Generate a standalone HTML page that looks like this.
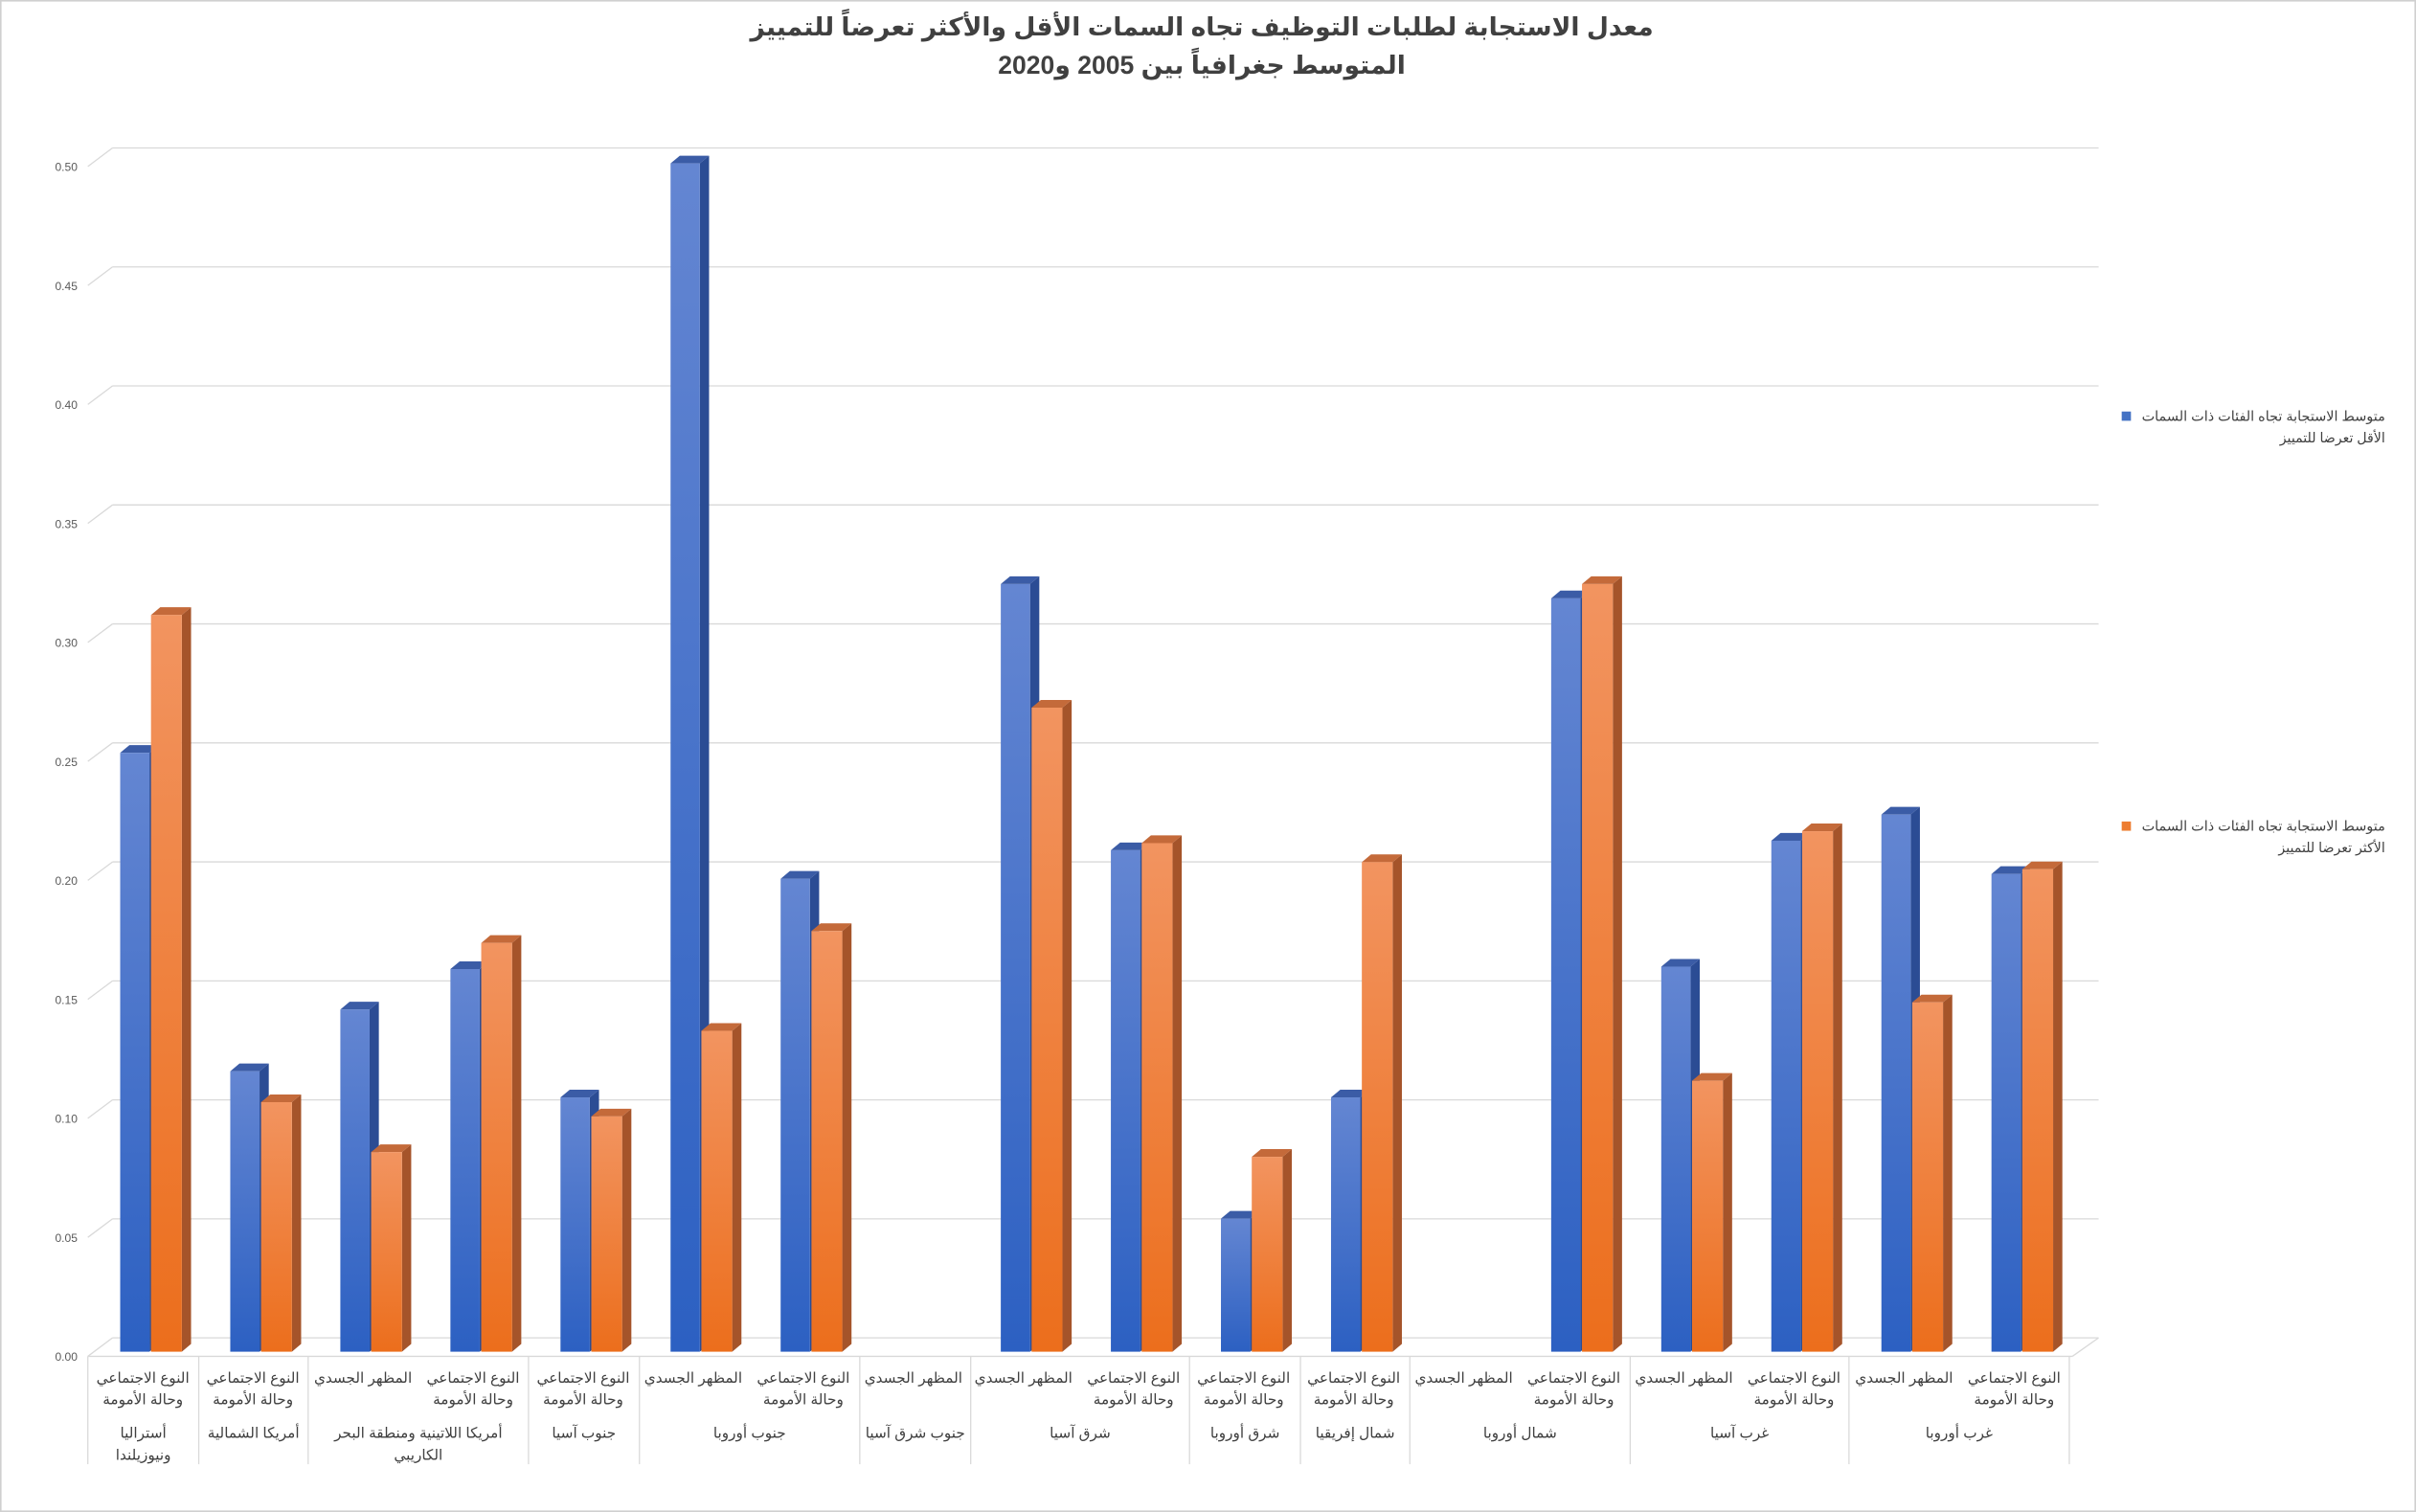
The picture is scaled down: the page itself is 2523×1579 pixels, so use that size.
<!DOCTYPE html>
<html><head><meta charset="utf-8"><style>
html,body{margin:0;padding:0;background:#fff}
svg{display:block}
text{font-family:"Liberation Sans","DejaVu Sans",sans-serif}
</style></head><body>
<svg id="s" width="2523" height="1579" viewBox="0 0 1568 981" preserveAspectRatio="none" xmlns="http://www.w3.org/2000/svg">
<defs>
<linearGradient id="gb" x1="0" y1="0" x2="0" y2="1"><stop offset="0" stop-color="#6486d2"/><stop offset="1" stop-color="#2c60c2"/></linearGradient>
<linearGradient id="go" x1="0" y1="0" x2="0" y2="1"><stop offset="0" stop-color="#f29460"/><stop offset="1" stop-color="#ec6e1c"/></linearGradient>
</defs>
<rect x="0.5" y="0.5" width="1567" height="980" fill="#fff" stroke="#d0d0d0"/>
<g font-weight="bold" fill="#404040" font-size="16.5" text-anchor="middle" direction="rtl">
<text x="780" y="23">معدل الاستجابة لطلبات التوظيف تجاه السمات الأقل والأكثر تعرضاً للتمييز</text>
<text x="780" y="48">المتوسط جغرافياً بين 2005 و2020</text>
</g>
<g id="grid"></g>
<g id="bars"></g>
<g id="labels" font-size="9.5" fill="#404040" text-anchor="middle" direction="rtl"></g>
<g font-size="8.8" fill="#404040" direction="rtl" text-anchor="start">
<rect x="1377" y="267" width="6" height="6" fill="#4472c4"/>
<text x="1548" y="273" textLength="158" lengthAdjust="spacingAndGlyphs">متوسط الاستجابة تجاه الفئات ذات السمات</text>
<text x="1548" y="287">الأقل تعرضا للتمييز</text>
<rect x="1377" y="533" width="6" height="6" fill="#ed7d31"/>
<text x="1548" y="539" textLength="158" lengthAdjust="spacingAndGlyphs">متوسط الاستجابة تجاه الفئات ذات السمات</text>
<text x="1548" y="553">الأكثر تعرضا للتمييز</text>
</g>
</svg>
<script>
var NS="http://www.w3.org/2000/svg";
function el(p,t,a,txt){var e=document.createElementNS(NS,t);for(var k in a)e.setAttribute(k,a[k]);if(txt!=null)e.textContent=txt;document.getElementById(p).appendChild(e);return e;}
for(var i=0;i<=10;i++){
 var v=i*0.05, y=868-v*1544;
 el("grid","line",{x1:73,y1:y,x2:1362,y2:y,stroke:"#d9d9d9","stroke-width":0.8});
 el("grid","line",{x1:57,y1:y+12,x2:73,y2:y,stroke:"#d9d9d9","stroke-width":0.8});
 el("grid","text",{x:43,y:y+15,"font-size":7.5,fill:"#595959","text-anchor":"middle"},v.toFixed(2));
}
el("grid","line",{x1:57,y1:880,x2:1345,y2:880,stroke:"#d9d9d9","stroke-width":0.8});
el("grid","line",{x1:1345,y1:880,x2:1362,y2:868,stroke:"#d9d9d9","stroke-width":0.8});
var B=[0.252,0.118,0.144,0.161,0.107,0.50,0.199,null,0.323,0.211,0.056,0.107,null,0.317,0.162,0.215,0.226,0.201];
var O=[0.31,0.105,0.084,0.172,0.099,0.135,0.177,null,0.271,0.214,0.082,0.206,null,0.323,0.114,0.219,0.147,0.203];
var P=[0,0,1,0,0,1,0,1,1,0,0,0,1,0,1,0,1,0];
var sw=71.44;
function bar(x,w,v,grad,side,top){
 if(v==null)return;
 var yb=877, yt=877-v*1542, dx=6, dy=5;
 el("bars","polygon",{points:(x+w)+","+yt+" "+(x+w+dx)+","+(yt-dy)+" "+(x+w+dx)+","+(yb-dy)+" "+(x+w)+","+yb,fill:side});
 el("bars","polygon",{points:x+","+yt+" "+(x+dx)+","+(yt-dy)+" "+(x+w+dx)+","+(yt-dy)+" "+(x+w)+","+yt,fill:top});
 el("bars","rect",{x:x,y:yt,width:w,height:yb-yt,fill:"url(#"+grad+")"});
}
for(var i=0;i<18;i++){
 var sx=57+i*sw;
 bar(sx+21,19,B[i],"gb","#2b4c94","#3b5ca6");
 bar(sx+41,20,O[i],"go","#a5542a","#c46a3a");
 var cx=sx+sw/2;
 if(P[i]) el("labels","text",{x:cx,y:897},"المظهر الجسدي");
 else {el("labels","text",{x:cx,y:897},"النوع الاجتماعي");el("labels","text",{x:cx,y:911},"وحالة الأمومة");}
}
var bounds=[57,129,200,343,415,558,630,772,844,915,1058,1200,1343];
bounds.forEach(function(x){el("labels","line",{x1:x,y1:880,x2:x,y2:950,stroke:"#d9d9d9","stroke-width":0.8});});
var G=[["أستراليا","ونيوزيلندا"],["أمريكا الشمالية"],["أمريكا اللاتينية ومنطقة البحر","الكاريبي"],["جنوب آسيا"],["جنوب أوروبا"],["جنوب شرق آسيا"],["شرق آسيا"],["شرق أوروبا"],["شمال إفريقيا"],["شمال أوروبا"],["غرب آسيا"],["غرب أوروبا"]];
for(var g=0;g<12;g++){
 var cx=(bounds[g]+bounds[g+1])/2;
 G[g].forEach(function(t,j){el("labels","text",{x:cx,y:933+j*14},t);});
}
</script>
</body></html>
